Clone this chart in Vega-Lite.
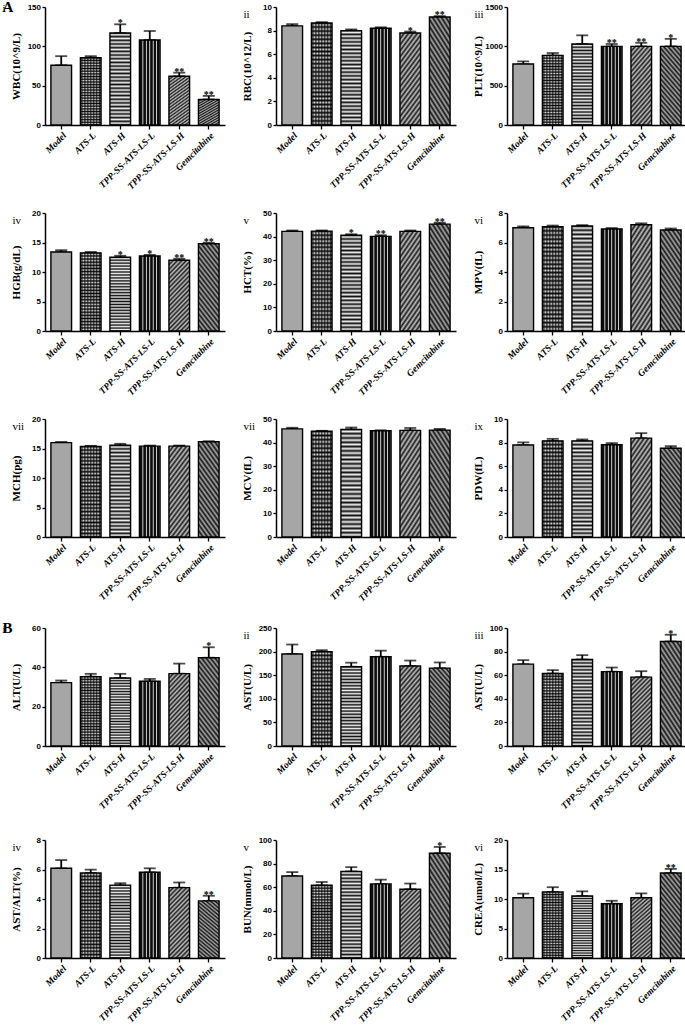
{
"$schema": "https://vega.github.io/schema/vega-lite/v6.json",
"autosize": {"type": "pad"},
"padding": {"left": 2, "top": 0, "right": 0, "bottom": 0},
"background": "white",
"params": [
 {"name": "hs", "value": {"gradient": "linear", "x1": 0, "y1": 0, "x2": 0, "y2": 1, "stops": [{"offset":0,"color":"#111"},{"offset":0.02,"color":"#eee"},{"offset":0.04,"color":"#111"},{"offset":0.06,"color":"#eee"},{"offset":0.08,"color":"#111"},{"offset":0.1,"color":"#eee"},{"offset":0.12,"color":"#111"},{"offset":0.14,"color":"#eee"},{"offset":0.16,"color":"#111"},{"offset":0.18,"color":"#eee"},{"offset":0.2,"color":"#111"},{"offset":0.22,"color":"#eee"},{"offset":0.24,"color":"#111"},{"offset":0.26,"color":"#eee"},{"offset":0.28,"color":"#111"},{"offset":0.3,"color":"#eee"},{"offset":0.32,"color":"#111"},{"offset":0.34,"color":"#eee"},{"offset":0.36,"color":"#111"},{"offset":0.38,"color":"#eee"},{"offset":0.4,"color":"#111"},{"offset":0.42,"color":"#eee"},{"offset":0.44,"color":"#111"},{"offset":0.46,"color":"#eee"},{"offset":0.48,"color":"#111"},{"offset":0.5,"color":"#eee"},{"offset":0.52,"color":"#111"},{"offset":0.54,"color":"#eee"},{"offset":0.56,"color":"#111"},{"offset":0.58,"color":"#eee"},{"offset":0.6,"color":"#111"},{"offset":0.62,"color":"#eee"},{"offset":0.64,"color":"#111"},{"offset":0.66,"color":"#eee"},{"offset":0.68,"color":"#111"},{"offset":0.7,"color":"#eee"},{"offset":0.72,"color":"#111"},{"offset":0.74,"color":"#eee"},{"offset":0.76,"color":"#111"},{"offset":0.78,"color":"#eee"},{"offset":0.8,"color":"#111"},{"offset":0.82,"color":"#eee"},{"offset":0.84,"color":"#111"},{"offset":0.86,"color":"#eee"},{"offset":0.88,"color":"#111"},{"offset":0.9,"color":"#eee"},{"offset":0.92,"color":"#111"},{"offset":0.94,"color":"#eee"},{"offset":0.96,"color":"#111"},{"offset":0.98,"color":"#eee"},{"offset":1,"color":"#111"}]}},
 {"name": "vs", "value": {"gradient": "linear", "x1": 0, "y1": 0, "x2": 1, "y2": 0, "stops": [{"offset":0,"color":"#f0f0f0"},{"offset":0.0417,"color":"#0d0d0d"},{"offset":0.125,"color":"#0d0d0d"},{"offset":0.1667,"color":"#f0f0f0"},{"offset":0.2083,"color":"#0d0d0d"},{"offset":0.2917,"color":"#0d0d0d"},{"offset":0.3333,"color":"#f0f0f0"},{"offset":0.375,"color":"#0d0d0d"},{"offset":0.4583,"color":"#0d0d0d"},{"offset":0.5,"color":"#f0f0f0"},{"offset":0.5417,"color":"#0d0d0d"},{"offset":0.625,"color":"#0d0d0d"},{"offset":0.6667,"color":"#f0f0f0"},{"offset":0.7083,"color":"#0d0d0d"},{"offset":0.7917,"color":"#0d0d0d"},{"offset":0.8333,"color":"#f0f0f0"},{"offset":0.875,"color":"#0d0d0d"},{"offset":0.9583,"color":"#0d0d0d"},{"offset":1,"color":"#f0f0f0"}]}},
 {"name": "d1", "value": {"gradient": "linear", "x1": 0, "y1": 0, "x2": 0.36, "y2": 1.19, "stops": [{"offset":0,"color":"#1c1c1c"},{"offset":0.025,"color":"#c0c0c0"},{"offset":0.05,"color":"#1c1c1c"},{"offset":0.075,"color":"#c0c0c0"},{"offset":0.1,"color":"#1c1c1c"},{"offset":0.125,"color":"#c0c0c0"},{"offset":0.15,"color":"#1c1c1c"},{"offset":0.175,"color":"#c0c0c0"},{"offset":0.2,"color":"#1c1c1c"},{"offset":0.225,"color":"#c0c0c0"},{"offset":0.25,"color":"#1c1c1c"},{"offset":0.275,"color":"#c0c0c0"},{"offset":0.3,"color":"#1c1c1c"},{"offset":0.325,"color":"#c0c0c0"},{"offset":0.35,"color":"#1c1c1c"},{"offset":0.375,"color":"#c0c0c0"},{"offset":0.4,"color":"#1c1c1c"},{"offset":0.425,"color":"#c0c0c0"},{"offset":0.45,"color":"#1c1c1c"},{"offset":0.475,"color":"#c0c0c0"},{"offset":0.5,"color":"#1c1c1c"},{"offset":0.525,"color":"#c0c0c0"},{"offset":0.55,"color":"#1c1c1c"},{"offset":0.575,"color":"#c0c0c0"},{"offset":0.6,"color":"#1c1c1c"},{"offset":0.625,"color":"#c0c0c0"},{"offset":0.65,"color":"#1c1c1c"},{"offset":0.675,"color":"#c0c0c0"},{"offset":0.7,"color":"#1c1c1c"},{"offset":0.725,"color":"#c0c0c0"},{"offset":0.75,"color":"#1c1c1c"},{"offset":0.775,"color":"#c0c0c0"},{"offset":0.8,"color":"#1c1c1c"},{"offset":0.825,"color":"#c0c0c0"},{"offset":0.85,"color":"#1c1c1c"},{"offset":0.875,"color":"#c0c0c0"},{"offset":0.9,"color":"#1c1c1c"},{"offset":0.925,"color":"#c0c0c0"},{"offset":0.95,"color":"#1c1c1c"},{"offset":0.975,"color":"#c0c0c0"},{"offset":1,"color":"#1c1c1c"}]}},
 {"name": "d2", "value": {"gradient": "linear", "x1": 1, "y1": 0, "x2": 0.64, "y2": 1.19, "stops": [{"offset":0,"color":"#141414"},{"offset":0.025,"color":"#a8a8a8"},{"offset":0.05,"color":"#141414"},{"offset":0.075,"color":"#a8a8a8"},{"offset":0.1,"color":"#141414"},{"offset":0.125,"color":"#a8a8a8"},{"offset":0.15,"color":"#141414"},{"offset":0.175,"color":"#a8a8a8"},{"offset":0.2,"color":"#141414"},{"offset":0.225,"color":"#a8a8a8"},{"offset":0.25,"color":"#141414"},{"offset":0.275,"color":"#a8a8a8"},{"offset":0.3,"color":"#141414"},{"offset":0.325,"color":"#a8a8a8"},{"offset":0.35,"color":"#141414"},{"offset":0.375,"color":"#a8a8a8"},{"offset":0.4,"color":"#141414"},{"offset":0.425,"color":"#a8a8a8"},{"offset":0.45,"color":"#141414"},{"offset":0.475,"color":"#a8a8a8"},{"offset":0.5,"color":"#141414"},{"offset":0.525,"color":"#a8a8a8"},{"offset":0.55,"color":"#141414"},{"offset":0.575,"color":"#a8a8a8"},{"offset":0.6,"color":"#141414"},{"offset":0.625,"color":"#a8a8a8"},{"offset":0.65,"color":"#141414"},{"offset":0.675,"color":"#a8a8a8"},{"offset":0.7,"color":"#141414"},{"offset":0.725,"color":"#a8a8a8"},{"offset":0.75,"color":"#141414"},{"offset":0.775,"color":"#a8a8a8"},{"offset":0.8,"color":"#141414"},{"offset":0.825,"color":"#a8a8a8"},{"offset":0.85,"color":"#141414"},{"offset":0.875,"color":"#a8a8a8"},{"offset":0.9,"color":"#141414"},{"offset":0.925,"color":"#a8a8a8"},{"offset":0.95,"color":"#141414"},{"offset":0.975,"color":"#a8a8a8"},{"offset":1,"color":"#141414"}]}},
 {"name": "ck", "value": {"gradient": "linear", "x1": 0, "y1": 0, "x2": 1, "y2": 0, "stops": [{"offset":0,"color":"rgba(0,0,0,0)"},{"offset":0.0714,"color":"rgba(0,0,0,0.75)"},{"offset":0.1429,"color":"rgba(0,0,0,0)"},{"offset":0.2143,"color":"rgba(0,0,0,0.75)"},{"offset":0.2857,"color":"rgba(0,0,0,0)"},{"offset":0.3571,"color":"rgba(0,0,0,0.75)"},{"offset":0.4286,"color":"rgba(0,0,0,0)"},{"offset":0.5,"color":"rgba(0,0,0,0.75)"},{"offset":0.5714,"color":"rgba(0,0,0,0)"},{"offset":0.6429,"color":"rgba(0,0,0,0.75)"},{"offset":0.7143,"color":"rgba(0,0,0,0)"},{"offset":0.7857,"color":"rgba(0,0,0,0.75)"},{"offset":0.8571,"color":"rgba(0,0,0,0)"},{"offset":0.9286,"color":"rgba(0,0,0,0.75)"},{"offset":1,"color":"rgba(0,0,0,0)"}]}}
],
"datasets": {
 "wbc": [{"g":"Model","v":76,"hi":87.5,"s":""},{"g":"ATS-L","v":85.5,"hi":87.5,"s":""},{"g":"ATS-H","v":117,"hi":128,"s":"*"},{"g":"TPP-SS-ATS-LS-L","v":108,"hi":119.5,"s":""},{"g":"TPP-SS-ATS-LS-H","v":62,"hi":66.5,"s":"**"},{"g":"Gemcitabine","v":32.5,"hi":37,"s":"**"}],
 "rbc": [{"g":"Model","v":8.4,"hi":8.55,"s":""},{"g":"ATS-L","v":8.65,"hi":8.72,"s":""},{"g":"ATS-H","v":8.0,"hi":8.1,"s":""},{"g":"TPP-SS-ATS-LS-L","v":8.2,"hi":8.28,"s":""},{"g":"TPP-SS-ATS-LS-H","v":7.8,"hi":7.92,"s":"*"},{"g":"Gemcitabine","v":9.15,"hi":9.23,"s":"**"}],
 "plt": [{"g":"Model","v":775,"hi":810,"s":""},{"g":"ATS-L","v":885,"hi":915,"s":""},{"g":"ATS-H","v":1030,"hi":1140,"s":""},{"g":"TPP-SS-ATS-LS-L","v":1000,"hi":1030,"s":"**"},{"g":"TPP-SS-ATS-LS-H","v":1000,"hi":1045,"s":"**"},{"g":"Gemcitabine","v":1000,"hi":1095,"s":"*"}],
 "hgb": [{"g":"Model","v":13.4,"hi":13.7,"s":""},{"g":"ATS-L","v":13.25,"hi":13.4,"s":""},{"g":"ATS-H","v":12.5,"hi":12.75,"s":"*"},{"g":"TPP-SS-ATS-LS-L","v":12.7,"hi":12.9,"s":"*"},{"g":"TPP-SS-ATS-LS-H","v":12.0,"hi":12.25,"s":"**"},{"g":"Gemcitabine","v":14.8,"hi":14.95,"s":"**"}],
 "hct": [{"g":"Model","v":42.2,"hi":42.6,"s":""},{"g":"ATS-L","v":42.3,"hi":42.6,"s":""},{"g":"ATS-H","v":40.6,"hi":41.0,"s":"*"},{"g":"TPP-SS-ATS-LS-L","v":40.1,"hi":40.6,"s":"**"},{"g":"TPP-SS-ATS-LS-H","v":42.2,"hi":42.6,"s":""},{"g":"Gemcitabine","v":45.3,"hi":45.9,"s":"**"}],
 "mpv": [{"g":"Model","v":7.0,"hi":7.1,"s":""},{"g":"ATS-L","v":7.07,"hi":7.15,"s":""},{"g":"ATS-H","v":7.12,"hi":7.18,"s":""},{"g":"TPP-SS-ATS-LS-L","v":6.92,"hi":6.98,"s":""},{"g":"TPP-SS-ATS-LS-H","v":7.2,"hi":7.3,"s":""},{"g":"Gemcitabine","v":6.85,"hi":6.95,"s":""}],
 "mch": [{"g":"Model","v":16.0,"hi":16.1,"s":""},{"g":"ATS-L","v":15.35,"hi":15.45,"s":""},{"g":"ATS-H","v":15.55,"hi":15.8,"s":""},{"g":"TPP-SS-ATS-LS-L","v":15.4,"hi":15.5,"s":""},{"g":"TPP-SS-ATS-LS-H","v":15.4,"hi":15.5,"s":""},{"g":"Gemcitabine","v":16.15,"hi":16.22,"s":""}],
 "mcv": [{"g":"Model","v":45.8,"hi":46.3,"s":""},{"g":"ATS-L","v":44.8,"hi":45.0,"s":""},{"g":"ATS-H","v":45.6,"hi":46.4,"s":""},{"g":"TPP-SS-ATS-LS-L","v":45.0,"hi":45.2,"s":""},{"g":"TPP-SS-ATS-LS-H","v":45.2,"hi":46.2,"s":""},{"g":"Gemcitabine","v":45.3,"hi":45.8,"s":""}],
 "pdw": [{"g":"Model","v":7.8,"hi":8.02,"s":""},{"g":"ATS-L","v":8.15,"hi":8.32,"s":""},{"g":"ATS-H","v":8.15,"hi":8.27,"s":""},{"g":"TPP-SS-ATS-LS-L","v":7.82,"hi":7.96,"s":""},{"g":"TPP-SS-ATS-LS-H","v":8.38,"hi":8.8,"s":""},{"g":"Gemcitabine","v":7.52,"hi":7.7,"s":""}],
 "alt": [{"g":"Model","v":32.2,"hi":33.3,"s":""},{"g":"ATS-L","v":35.3,"hi":36.7,"s":""},{"g":"ATS-H","v":34.6,"hi":36.7,"s":""},{"g":"TPP-SS-ATS-LS-L","v":32.9,"hi":34.1,"s":""},{"g":"TPP-SS-ATS-LS-H","v":36.8,"hi":41.9,"s":""},{"g":"Gemcitabine","v":44.9,"hi":50.2,"s":"*"}],
 "ast1": [{"g":"Model","v":195,"hi":215,"s":""},{"g":"ATS-L","v":200,"hi":203,"s":""},{"g":"ATS-H","v":168,"hi":176.5,"s":""},{"g":"TPP-SS-ATS-LS-L","v":189,"hi":202,"s":""},{"g":"TPP-SS-ATS-LS-H","v":169.5,"hi":181,"s":""},{"g":"Gemcitabine","v":165,"hi":177,"s":""}],
 "ast2": [{"g":"Model","v":69.4,"hi":72.7,"s":""},{"g":"ATS-L","v":61.5,"hi":64.3,"s":""},{"g":"ATS-H","v":73.3,"hi":77,"s":""},{"g":"TPP-SS-ATS-LS-L","v":63,"hi":66.5,"s":""},{"g":"TPP-SS-ATS-LS-H","v":58.4,"hi":63.4,"s":""},{"g":"Gemcitabine","v":88.6,"hi":94.3,"s":"*"}],
 "ratio": [{"g":"Model","v":6.08,"hi":6.64,"s":""},{"g":"ATS-L","v":5.77,"hi":5.99,"s":""},{"g":"ATS-H","v":4.94,"hi":5.07,"s":""},{"g":"TPP-SS-ATS-LS-L","v":5.81,"hi":6.08,"s":""},{"g":"TPP-SS-ATS-LS-H","v":4.77,"hi":5.12,"s":""},{"g":"Gemcitabine","v":3.87,"hi":4.22,"s":"**"}],
 "bun": [{"g":"Model","v":69.5,"hi":72.8,"s":""},{"g":"ATS-L","v":61.6,"hi":64.4,"s":""},{"g":"ATS-H","v":73.4,"hi":77,"s":""},{"g":"TPP-SS-ATS-LS-L","v":62.8,"hi":66.4,"s":""},{"g":"TPP-SS-ATS-LS-H","v":58.3,"hi":63.1,"s":""},{"g":"Gemcitabine","v":88.8,"hi":94.1,"s":"*"}],
 "crea": [{"g":"Model","v":10.2,"hi":10.9,"s":""},{"g":"ATS-L","v":11.2,"hi":12.0,"s":""},{"g":"ATS-H","v":10.5,"hi":11.3,"s":""},{"g":"TPP-SS-ATS-LS-L","v":9.2,"hi":9.7,"s":""},{"g":"TPP-SS-ATS-LS-H","v":10.2,"hi":10.95,"s":""},{"g":"Gemcitabine","v":14.4,"hi":15.1,"s":"**"}]
},
"spacing": 18,
"vconcat": [
{"columns": 3, "bounds": "flush", "spacing": {"row": 88, "column": 51},
"concat": [
 {"title": {"text": "A", "fontSize": 15, "fontWeight": "bold", "baseline": "top", "offset": -12, "subtitle": "\u00a0\u00a0\u00a0\u00a0\u00a0\u00a0\u00a0i", "subtitleFontSize": 11, "subtitlePadding": -11.8, "dx": -8},
  "data": {"name": "wbc"}, "width": 180, "height": 118,
  "encoding": {"x": {"field": "g", "type": "nominal", "sort": null, "title": null}, "y": {"field": "v", "type": "quantitative", "scale": {"domain": [0, 150]}, "axis": {"values": [0, 50, 100, 150], "title": "WBC(10^9/L)"}}},
  "layer": [
   {"mark": {"type": "errorbar", "color": "#000", "thickness": 1.8, "size": 12, "ticks": true}, "encoding": {"y2": {"field": "hi"}}},
   {"mark": {"type": "bar", "stroke": "#000", "strokeWidth": 1.4, "fill": {"expr": "datum.g==='Model'?'#a6a6a6':datum.g==='TPP-SS-ATS-LS-L'?vs:datum.g==='TPP-SS-ATS-LS-H'?d1:datum.g==='Gemcitabine'?d2:hs"}}},
   {"transform": [{"filter": "datum.g==='ATS-L'"}], "mark": {"type": "bar", "fill": {"expr": "ck"}}},
   {"mark": {"type": "text", "font": "Liberation Serif", "fontWeight": "bold", "fontSize": 10, "baseline": "alphabetic", "dy": 2}, "encoding": {"y": {"field": "hi", "type": "quantitative"}, "text": {"field": "s"}}}
  ]},
 {"title": "ii",
  "data": {"name": "rbc"}, "width": 180, "height": 118,
  "encoding": {"x": {"field": "g", "type": "nominal", "sort": null, "title": null}, "y": {"field": "v", "type": "quantitative", "scale": {"domain": [0, 10]}, "axis": {"values": [0, 2, 4, 6, 8, 10], "title": "RBC(10^12/L)"}}},
  "layer": [
   {"mark": {"type": "errorbar", "color": "#000", "thickness": 1.8, "size": 12, "ticks": true}, "encoding": {"y2": {"field": "hi"}}},
   {"mark": {"type": "bar", "stroke": "#000", "strokeWidth": 1.4, "fill": {"expr": "datum.g==='Model'?'#a6a6a6':datum.g==='TPP-SS-ATS-LS-L'?vs:datum.g==='TPP-SS-ATS-LS-H'?d1:datum.g==='Gemcitabine'?d2:hs"}}},
   {"transform": [{"filter": "datum.g==='ATS-L'"}], "mark": {"type": "bar", "fill": {"expr": "ck"}}},
   {"mark": {"type": "text", "font": "Liberation Serif", "fontWeight": "bold", "fontSize": 10, "baseline": "alphabetic", "dy": 2}, "encoding": {"y": {"field": "hi", "type": "quantitative"}, "text": {"field": "s"}}}
  ]},
 {"title": "iii",
  "data": {"name": "plt"}, "width": 180, "height": 118,
  "encoding": {"x": {"field": "g", "type": "nominal", "sort": null, "title": null}, "y": {"field": "v", "type": "quantitative", "scale": {"domain": [0, 1500]}, "axis": {"values": [0, 500, 1000, 1500], "title": "PLT(10^9/L)"}}},
  "layer": [
   {"mark": {"type": "errorbar", "color": "#000", "thickness": 1.8, "size": 12, "ticks": true}, "encoding": {"y2": {"field": "hi"}}},
   {"mark": {"type": "bar", "stroke": "#000", "strokeWidth": 1.4, "fill": {"expr": "datum.g==='Model'?'#a6a6a6':datum.g==='TPP-SS-ATS-LS-L'?vs:datum.g==='TPP-SS-ATS-LS-H'?d1:datum.g==='Gemcitabine'?d2:hs"}}},
   {"transform": [{"filter": "datum.g==='ATS-L'"}], "mark": {"type": "bar", "fill": {"expr": "ck"}}},
   {"mark": {"type": "text", "font": "Liberation Serif", "fontWeight": "bold", "fontSize": 10, "baseline": "alphabetic", "dy": 2}, "encoding": {"y": {"field": "hi", "type": "quantitative"}, "text": {"field": "s"}}}
  ]},
 {"title": "iv",
  "data": {"name": "hgb"}, "width": 180, "height": 118,
  "encoding": {"x": {"field": "g", "type": "nominal", "sort": null, "title": null}, "y": {"field": "v", "type": "quantitative", "scale": {"domain": [0, 20]}, "axis": {"values": [0, 5, 10, 15, 20], "title": "HGB(g/dL)"}}},
  "layer": [
   {"mark": {"type": "errorbar", "color": "#000", "thickness": 1.8, "size": 12, "ticks": true}, "encoding": {"y2": {"field": "hi"}}},
   {"mark": {"type": "bar", "stroke": "#000", "strokeWidth": 1.4, "fill": {"expr": "datum.g==='Model'?'#a6a6a6':datum.g==='TPP-SS-ATS-LS-L'?vs:datum.g==='TPP-SS-ATS-LS-H'?d1:datum.g==='Gemcitabine'?d2:hs"}}},
   {"transform": [{"filter": "datum.g==='ATS-L'"}], "mark": {"type": "bar", "fill": {"expr": "ck"}}},
   {"mark": {"type": "text", "font": "Liberation Serif", "fontWeight": "bold", "fontSize": 10, "baseline": "alphabetic", "dy": 2}, "encoding": {"y": {"field": "hi", "type": "quantitative"}, "text": {"field": "s"}}}
  ]},
 {"title": "v",
  "data": {"name": "hct"}, "width": 180, "height": 118,
  "encoding": {"x": {"field": "g", "type": "nominal", "sort": null, "title": null}, "y": {"field": "v", "type": "quantitative", "scale": {"domain": [0, 50]}, "axis": {"values": [0, 10, 20, 30, 40, 50], "title": "HCT(%)"}}},
  "layer": [
   {"mark": {"type": "errorbar", "color": "#000", "thickness": 1.8, "size": 12, "ticks": true}, "encoding": {"y2": {"field": "hi"}}},
   {"mark": {"type": "bar", "stroke": "#000", "strokeWidth": 1.4, "fill": {"expr": "datum.g==='Model'?'#a6a6a6':datum.g==='TPP-SS-ATS-LS-L'?vs:datum.g==='TPP-SS-ATS-LS-H'?d1:datum.g==='Gemcitabine'?d2:hs"}}},
   {"transform": [{"filter": "datum.g==='ATS-L'"}], "mark": {"type": "bar", "fill": {"expr": "ck"}}},
   {"mark": {"type": "text", "font": "Liberation Serif", "fontWeight": "bold", "fontSize": 10, "baseline": "alphabetic", "dy": 2}, "encoding": {"y": {"field": "hi", "type": "quantitative"}, "text": {"field": "s"}}}
  ]},
 {"title": "vi",
  "data": {"name": "mpv"}, "width": 180, "height": 118,
  "encoding": {"x": {"field": "g", "type": "nominal", "sort": null, "title": null}, "y": {"field": "v", "type": "quantitative", "scale": {"domain": [0, 8]}, "axis": {"values": [0, 2, 4, 6, 8], "title": "MPV(fL)"}}},
  "layer": [
   {"mark": {"type": "errorbar", "color": "#000", "thickness": 1.8, "size": 12, "ticks": true}, "encoding": {"y2": {"field": "hi"}}},
   {"mark": {"type": "bar", "stroke": "#000", "strokeWidth": 1.4, "fill": {"expr": "datum.g==='Model'?'#a6a6a6':datum.g==='TPP-SS-ATS-LS-L'?vs:datum.g==='TPP-SS-ATS-LS-H'?d1:datum.g==='Gemcitabine'?d2:hs"}}},
   {"transform": [{"filter": "datum.g==='ATS-L'"}], "mark": {"type": "bar", "fill": {"expr": "ck"}}},
   {"mark": {"type": "text", "font": "Liberation Serif", "fontWeight": "bold", "fontSize": 10, "baseline": "alphabetic", "dy": 2}, "encoding": {"y": {"field": "hi", "type": "quantitative"}, "text": {"field": "s"}}}
  ]},
 {"title": "vii",
  "data": {"name": "mch"}, "width": 180, "height": 118,
  "encoding": {"x": {"field": "g", "type": "nominal", "sort": null, "title": null}, "y": {"field": "v", "type": "quantitative", "scale": {"domain": [0, 20]}, "axis": {"values": [0, 5, 10, 15, 20], "title": "MCH(pg)"}}},
  "layer": [
   {"mark": {"type": "errorbar", "color": "#000", "thickness": 1.8, "size": 12, "ticks": true}, "encoding": {"y2": {"field": "hi"}}},
   {"mark": {"type": "bar", "stroke": "#000", "strokeWidth": 1.4, "fill": {"expr": "datum.g==='Model'?'#a6a6a6':datum.g==='TPP-SS-ATS-LS-L'?vs:datum.g==='TPP-SS-ATS-LS-H'?d1:datum.g==='Gemcitabine'?d2:hs"}}},
   {"transform": [{"filter": "datum.g==='ATS-L'"}], "mark": {"type": "bar", "fill": {"expr": "ck"}}},
   {"mark": {"type": "text", "font": "Liberation Serif", "fontWeight": "bold", "fontSize": 10, "baseline": "alphabetic", "dy": 2}, "encoding": {"y": {"field": "hi", "type": "quantitative"}, "text": {"field": "s"}}}
  ]},
 {"title": "vii",
  "data": {"name": "mcv"}, "width": 180, "height": 118,
  "encoding": {"x": {"field": "g", "type": "nominal", "sort": null, "title": null}, "y": {"field": "v", "type": "quantitative", "scale": {"domain": [0, 50]}, "axis": {"values": [0, 10, 20, 30, 40, 50], "title": "MCV(fL)"}}},
  "layer": [
   {"mark": {"type": "errorbar", "color": "#000", "thickness": 1.8, "size": 12, "ticks": true}, "encoding": {"y2": {"field": "hi"}}},
   {"mark": {"type": "bar", "stroke": "#000", "strokeWidth": 1.4, "fill": {"expr": "datum.g==='Model'?'#a6a6a6':datum.g==='TPP-SS-ATS-LS-L'?vs:datum.g==='TPP-SS-ATS-LS-H'?d1:datum.g==='Gemcitabine'?d2:hs"}}},
   {"transform": [{"filter": "datum.g==='ATS-L'"}], "mark": {"type": "bar", "fill": {"expr": "ck"}}},
   {"mark": {"type": "text", "font": "Liberation Serif", "fontWeight": "bold", "fontSize": 10, "baseline": "alphabetic", "dy": 2}, "encoding": {"y": {"field": "hi", "type": "quantitative"}, "text": {"field": "s"}}}
  ]},
 {"title": "ix",
  "data": {"name": "pdw"}, "width": 180, "height": 118,
  "encoding": {"x": {"field": "g", "type": "nominal", "sort": null, "title": null}, "y": {"field": "v", "type": "quantitative", "scale": {"domain": [0, 10]}, "axis": {"values": [0, 2, 4, 6, 8, 10], "title": "PDW(fL)"}}},
  "layer": [
   {"mark": {"type": "errorbar", "color": "#000", "thickness": 1.8, "size": 12, "ticks": true}, "encoding": {"y2": {"field": "hi"}}},
   {"mark": {"type": "bar", "stroke": "#000", "strokeWidth": 1.4, "fill": {"expr": "datum.g==='Model'?'#a6a6a6':datum.g==='TPP-SS-ATS-LS-L'?vs:datum.g==='TPP-SS-ATS-LS-H'?d1:datum.g==='Gemcitabine'?d2:hs"}}},
   {"transform": [{"filter": "datum.g==='ATS-L'"}], "mark": {"type": "bar", "fill": {"expr": "ck"}}},
   {"mark": {"type": "text", "font": "Liberation Serif", "fontWeight": "bold", "fontSize": 10, "baseline": "alphabetic", "dy": 2}, "encoding": {"y": {"field": "hi", "type": "quantitative"}, "text": {"field": "s"}}}
  ]}
]},
{"columns": 3, "bounds": "flush", "spacing": {"row": 94, "column": 51},
"concat": [
 {"title": {"text": "B", "fontSize": 15, "fontWeight": "bold", "baseline": "top", "offset": -12, "subtitle": "\u00a0\u00a0\u00a0\u00a0\u00a0\u00a0\u00a0i", "subtitleFontSize": 11, "subtitlePadding": -11.8, "dx": -8},
  "data": {"name": "alt"}, "width": 180, "height": 118,
  "encoding": {"x": {"field": "g", "type": "nominal", "sort": null, "title": null}, "y": {"field": "v", "type": "quantitative", "scale": {"domain": [0, 60]}, "axis": {"values": [0, 20, 40, 60], "title": "ALT(U/L)"}}},
  "layer": [
   {"mark": {"type": "errorbar", "color": "#000", "thickness": 1.8, "size": 12, "ticks": true}, "encoding": {"y2": {"field": "hi"}}},
   {"mark": {"type": "bar", "stroke": "#000", "strokeWidth": 1.4, "fill": {"expr": "datum.g==='Model'?'#a6a6a6':datum.g==='TPP-SS-ATS-LS-L'?vs:datum.g==='TPP-SS-ATS-LS-H'?d1:datum.g==='Gemcitabine'?d2:hs"}}},
   {"transform": [{"filter": "datum.g==='ATS-L'"}], "mark": {"type": "bar", "fill": {"expr": "ck"}}},
   {"mark": {"type": "text", "font": "Liberation Serif", "fontWeight": "bold", "fontSize": 10, "baseline": "alphabetic", "dy": 2}, "encoding": {"y": {"field": "hi", "type": "quantitative"}, "text": {"field": "s"}}}
  ]},
 {"title": "ii",
  "data": {"name": "ast1"}, "width": 180, "height": 118,
  "encoding": {"x": {"field": "g", "type": "nominal", "sort": null, "title": null}, "y": {"field": "v", "type": "quantitative", "scale": {"domain": [0, 250]}, "axis": {"values": [0, 50, 100, 150, 200, 250], "title": "AST(U/L)"}}},
  "layer": [
   {"mark": {"type": "errorbar", "color": "#000", "thickness": 1.8, "size": 12, "ticks": true}, "encoding": {"y2": {"field": "hi"}}},
   {"mark": {"type": "bar", "stroke": "#000", "strokeWidth": 1.4, "fill": {"expr": "datum.g==='Model'?'#a6a6a6':datum.g==='TPP-SS-ATS-LS-L'?vs:datum.g==='TPP-SS-ATS-LS-H'?d1:datum.g==='Gemcitabine'?d2:hs"}}},
   {"transform": [{"filter": "datum.g==='ATS-L'"}], "mark": {"type": "bar", "fill": {"expr": "ck"}}},
   {"mark": {"type": "text", "font": "Liberation Serif", "fontWeight": "bold", "fontSize": 10, "baseline": "alphabetic", "dy": 2}, "encoding": {"y": {"field": "hi", "type": "quantitative"}, "text": {"field": "s"}}}
  ]},
 {"title": "iii",
  "data": {"name": "ast2"}, "width": 180, "height": 118,
  "encoding": {"x": {"field": "g", "type": "nominal", "sort": null, "title": null}, "y": {"field": "v", "type": "quantitative", "scale": {"domain": [0, 100]}, "axis": {"values": [0, 20, 40, 60, 80, 100], "title": "AST(U/L)"}}},
  "layer": [
   {"mark": {"type": "errorbar", "color": "#000", "thickness": 1.8, "size": 12, "ticks": true}, "encoding": {"y2": {"field": "hi"}}},
   {"mark": {"type": "bar", "stroke": "#000", "strokeWidth": 1.4, "fill": {"expr": "datum.g==='Model'?'#a6a6a6':datum.g==='TPP-SS-ATS-LS-L'?vs:datum.g==='TPP-SS-ATS-LS-H'?d1:datum.g==='Gemcitabine'?d2:hs"}}},
   {"transform": [{"filter": "datum.g==='ATS-L'"}], "mark": {"type": "bar", "fill": {"expr": "ck"}}},
   {"mark": {"type": "text", "font": "Liberation Serif", "fontWeight": "bold", "fontSize": 10, "baseline": "alphabetic", "dy": 2}, "encoding": {"y": {"field": "hi", "type": "quantitative"}, "text": {"field": "s"}}}
  ]},
 {"title": "iv",
  "data": {"name": "ratio"}, "width": 180, "height": 118,
  "encoding": {"x": {"field": "g", "type": "nominal", "sort": null, "title": null}, "y": {"field": "v", "type": "quantitative", "scale": {"domain": [0, 8]}, "axis": {"values": [0, 2, 4, 6, 8], "title": "AST/ALT(%)"}}},
  "layer": [
   {"mark": {"type": "errorbar", "color": "#000", "thickness": 1.8, "size": 12, "ticks": true}, "encoding": {"y2": {"field": "hi"}}},
   {"mark": {"type": "bar", "stroke": "#000", "strokeWidth": 1.4, "fill": {"expr": "datum.g==='Model'?'#a6a6a6':datum.g==='TPP-SS-ATS-LS-L'?vs:datum.g==='TPP-SS-ATS-LS-H'?d1:datum.g==='Gemcitabine'?d2:hs"}}},
   {"transform": [{"filter": "datum.g==='ATS-L'"}], "mark": {"type": "bar", "fill": {"expr": "ck"}}},
   {"mark": {"type": "text", "font": "Liberation Serif", "fontWeight": "bold", "fontSize": 10, "baseline": "alphabetic", "dy": 2}, "encoding": {"y": {"field": "hi", "type": "quantitative"}, "text": {"field": "s"}}}
  ]},
 {"title": "v",
  "data": {"name": "bun"}, "width": 180, "height": 118,
  "encoding": {"x": {"field": "g", "type": "nominal", "sort": null, "title": null}, "y": {"field": "v", "type": "quantitative", "scale": {"domain": [0, 100]}, "axis": {"values": [0, 20, 40, 60, 80, 100], "title": "BUN(mmol/L)"}}},
  "layer": [
   {"mark": {"type": "errorbar", "color": "#000", "thickness": 1.8, "size": 12, "ticks": true}, "encoding": {"y2": {"field": "hi"}}},
   {"mark": {"type": "bar", "stroke": "#000", "strokeWidth": 1.4, "fill": {"expr": "datum.g==='Model'?'#a6a6a6':datum.g==='TPP-SS-ATS-LS-L'?vs:datum.g==='TPP-SS-ATS-LS-H'?d1:datum.g==='Gemcitabine'?d2:hs"}}},
   {"transform": [{"filter": "datum.g==='ATS-L'"}], "mark": {"type": "bar", "fill": {"expr": "ck"}}},
   {"mark": {"type": "text", "font": "Liberation Serif", "fontWeight": "bold", "fontSize": 10, "baseline": "alphabetic", "dy": 2}, "encoding": {"y": {"field": "hi", "type": "quantitative"}, "text": {"field": "s"}}}
  ]},
 {"title": "vi",
  "data": {"name": "crea"}, "width": 180, "height": 118,
  "encoding": {"x": {"field": "g", "type": "nominal", "sort": null, "title": null}, "y": {"field": "v", "type": "quantitative", "scale": {"domain": [0, 20]}, "axis": {"values": [0, 5, 10, 15, 20], "title": "CREA(umol/L)"}}},
  "layer": [
   {"mark": {"type": "errorbar", "color": "#000", "thickness": 1.8, "size": 12, "ticks": true}, "encoding": {"y2": {"field": "hi"}}},
   {"mark": {"type": "bar", "stroke": "#000", "strokeWidth": 1.4, "fill": {"expr": "datum.g==='Model'?'#a6a6a6':datum.g==='TPP-SS-ATS-LS-L'?vs:datum.g==='TPP-SS-ATS-LS-H'?d1:datum.g==='Gemcitabine'?d2:hs"}}},
   {"transform": [{"filter": "datum.g==='ATS-L'"}], "mark": {"type": "bar", "fill": {"expr": "ck"}}},
   {"mark": {"type": "text", "font": "Liberation Serif", "fontWeight": "bold", "fontSize": 10, "baseline": "alphabetic", "dy": 2}, "encoding": {"y": {"field": "hi", "type": "quantitative"}, "text": {"field": "s"}}}
  ]}
]}
],
"config": {
 "view": {"stroke": null},
 "scale": {"bandPaddingInner": 0.3, "bandPaddingOuter": 0.2},
 "axis": {"domainColor": "#000", "domainWidth": 1.5, "tickColor": "#000", "tickWidth": 1.3, "labelColor": "#000", "titleColor": "#000", "grid": false},
 "axisX": {"labelFont": "Liberation Serif", "labelFontStyle": "italic", "labelFontWeight": "bold", "labelFontSize": 9.5, "labelAngle": -45, "tickSize": 4, "labelPadding": 1},
 "axisY": {"format": "d", "labelFont": "Liberation Sans", "labelFontWeight": "bold", "labelFontSize": 8, "tickSize": 3, "labelPadding": 1.5, "titleFont": "Liberation Serif", "titleFontWeight": "bold", "titleFontSize": 11, "minExtent": 22, "maxExtent": 22, "titlePadding": 1.5},
 "title": {"anchor": "start", "frame": "bounds", "font": "Liberation Serif", "fontSize": 11, "fontWeight": "normal", "color": "#000", "subtitleColor": "#000", "subtitleFont": "Liberation Serif", "offset": -17, "baseline": "alphabetic", "dx": 2},
 "text": {"color": "#000"}
}
}
